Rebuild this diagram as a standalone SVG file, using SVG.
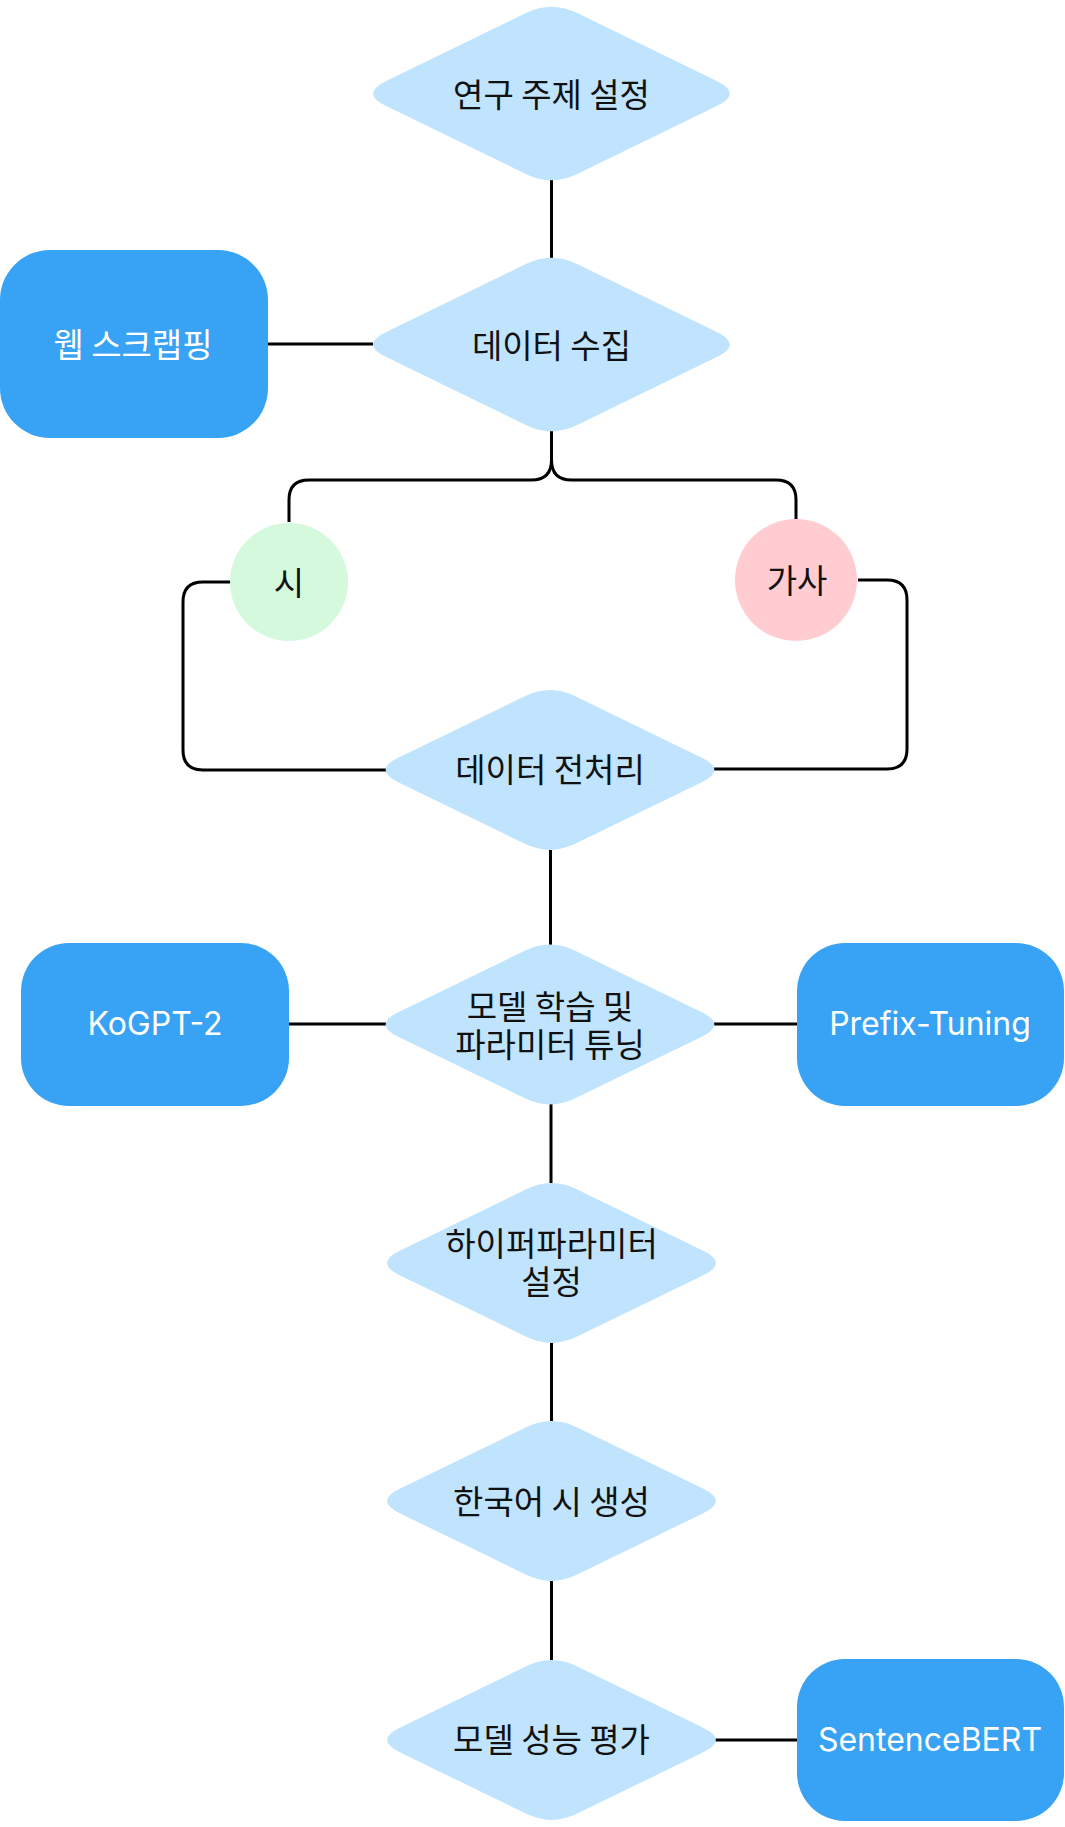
<svg xmlns="http://www.w3.org/2000/svg" xmlns:xlink="http://www.w3.org/1999/xlink" width="1065" height="1827" viewBox="0 0 1065 1827">
<defs>
<style>
.dia{fill:#C0E4FE}
.box{fill:#38A2F4}
.edge{fill:none;stroke:#000;stroke-width:3;stroke-linecap:butt}
.kt{font-family:"Noto Sans CJK KR","Noto Sans",sans-serif;font-size:33px;fill:#111;text-anchor:middle;dominant-baseline:central}
.wt{font-family:"Noto Sans CJK KR","Noto Sans",sans-serif;font-size:33px;fill:#fff;text-anchor:middle;dominant-baseline:central}
.lt{font-family:Inter,"Liberation Sans",sans-serif;font-size:32px;fill:#fff;text-anchor:middle;dominant-baseline:central}
</style>
<path id="dA" d="M25.2,-80.7 L165.8,-12.3 Q191,0 165.8,12.3 L25.2,80.7 Q0,93 -25.2,80.7 L-165.8,12.3 Q-191,0 -165.8,-12.3 L-25.2,-80.7 Q0,-93 25.2,-80.7 Z"/>
<path id="dB" d="M25.2,-73.8 L151.8,-12.2 Q177,0 151.8,12.2 L25.2,73.8 Q0,86 -25.2,73.8 L-151.8,12.2 Q-177,0 -151.8,-12.2 L-25.2,-73.8 Q0,-86 25.2,-73.8 Z"/>
</defs>
<rect width="1065" height="1827" fill="#fff"/>
<g id="connectors">
<path class="edge" d="M551.5,180 V258"/>
<path class="edge" d="M268,344 H373"/>
<path class="edge" d="M551.5,431 V460 Q551.5,480 531.5,480 H309 Q289,480 289,500 V522"/>
<path class="edge" d="M551.5,460 Q551.5,480 571.5,480 H776 Q796,480 796,500 V520"/>
<path class="edge" d="M231,582 H203 Q183,582 183,602 V750 Q183,770 203,770 H386"/>
<path class="edge" d="M858,580 H887 Q907,580 907,600 V749 Q907,769 887,769 H714"/>
<path class="edge" d="M550.5,850 V945"/>
<path class="edge" d="M289,1024 H386"/>
<path class="edge" d="M713,1024 H797"/>
<path class="edge" d="M551,1104 V1183"/>
<path class="edge" d="M551.5,1343 V1421"/>
<path class="edge" d="M551.5,1581 V1660"/>
<path class="edge" d="M715,1740 H797"/>
</g>
<g id="n-topic">
<use xlink:href="#dA" class="dia" transform="translate(551.5,93.5)"/>
<text class="kt" x="551.5" y="93">연구 주제 설정</text>
</g>
<g id="n-collect">
<use xlink:href="#dA" class="dia" transform="translate(551.5,344.5)"/>
<text class="kt" x="551.5" y="344">데이터 수집</text>
</g>
<g id="n-web">
<rect class="box" x="0" y="250" width="268" height="188" rx="50" ry="50"/>
<text class="wt" x="133" y="343">웹 스크랩핑</text>
</g>
<g id="n-poem">
<circle cx="289" cy="582" r="59" fill="#D4F9DC"/>
<text class="kt" x="289" y="581">시</text>
</g>
<g id="n-lyrics">
<circle cx="796" cy="580" r="61" fill="#FFCCD2"/>
<text class="kt" x="797" y="579">가사</text>
</g>
<g id="n-preprocess">
<use xlink:href="#dB" class="dia" transform="translate(550,770)"/>
<text class="kt" x="550" y="768">데이터 전처리</text>
</g>
<g id="n-train">
<use xlink:href="#dB" class="dia" transform="translate(550,1024.5)"/>
<text class="kt"><tspan x="550" y="1005">모델 학습 및</tspan><tspan x="550" y="1043">파라미터 튜닝</tspan></text>
</g>
<g id="n-kogpt">
<rect class="box" x="21" y="943" width="268" height="163" rx="48" ry="48"/>
<text class="lt" x="155" y="1023">KoGPT-2</text>
</g>
<g id="n-prefix">
<rect class="box" x="797" y="943" width="267" height="163" rx="48" ry="48"/>
<text class="lt" x="930" y="1023">Prefix-Tuning</text>
</g>
<g id="n-hyper">
<use xlink:href="#dB" class="dia" transform="translate(551.5,1263)"/>
<text class="kt"><tspan x="551.5" y="1242">하이퍼파라미터</tspan><tspan x="551.5" y="1280">설정</tspan></text>
</g>
<g id="n-generate">
<use xlink:href="#dB" class="dia" transform="translate(551.5,1501)"/>
<text class="kt" x="551.5" y="1500">한국어 시 생성</text>
</g>
<g id="n-eval">
<use xlink:href="#dB" class="dia" transform="translate(551.5,1740)"/>
<text class="kt" x="551.5" y="1738">모델 성능 평가</text>
</g>
<g id="n-sbert">
<rect class="box" x="797" y="1659" width="267" height="162" rx="48" ry="48"/>
<text class="lt" x="930" y="1739">SentenceBERT</text>
</g>
</svg>
